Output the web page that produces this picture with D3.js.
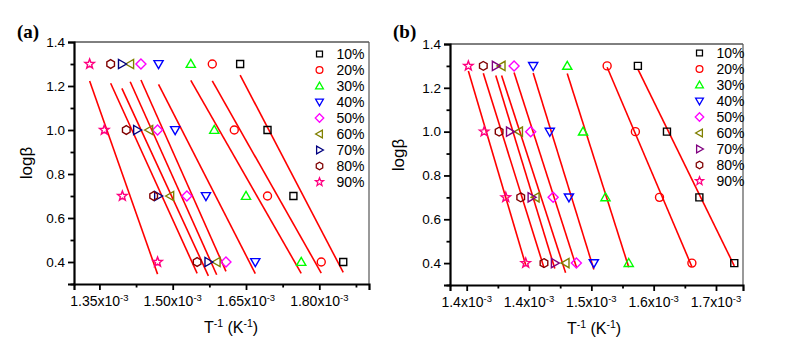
<!DOCTYPE html>
<html><head><meta charset="utf-8">
<script src="https://cdn.jsdelivr.net/npm/d3@7"></script>
<style>body{margin:0;background:#fff} svg{display:block}</style>
</head><body>
<svg id="c" width="796" height="350"></svg>
<script>
// ---------- data ----------
const seriesNames = ["10%","20%","30%","40%","50%","60%","70%","80%","90%"];
const logBeta = [1.3, 1.0, 0.7, 0.4];
// T^-1 values (x10^-3 K^-1), one per logBeta level
const a10 = [1.638, 1.694, 1.747, 1.849];
const a20 = [1.581, 1.626, 1.694, 1.804];
const a30 = [1.537, 1.585, 1.650, 1.763];
const a40 = [1.471, 1.505, 1.568, 1.669];
const a50 = [1.435, 1.469, 1.529, 1.609];
const a60 = [1.413, 1.452, 1.495, 1.590];
const a70 = [1.396, 1.427, 1.470, 1.573];
const a80 = [1.373, 1.405, 1.461, 1.550];
const a90 = [1.330, 1.360, 1.397, 1.469];
const b10 = [1.581, 1.616, 1.655, 1.697];
const b20 = [1.544, 1.578, 1.607, 1.646];
const b30 = [1.496, 1.515, 1.542, 1.570];
const b40 = [1.455, 1.475, 1.498, 1.528];
const b50 = [1.432, 1.452, 1.479, 1.507];
const b60 = [1.417, 1.438, 1.458, 1.494];
const b70 = [1.410, 1.427, 1.453, 1.481];
const b80 = [1.395, 1.414, 1.440, 1.468];
const b90 = [1.377, 1.396, 1.422, 1.446];
const yTicksMajor = [0.4, 0.6, 0.8, 1.0, 1.2, 1.4];
const yTicksMinor = [0.3, 0.5, 0.7, 0.9, 1.1, 1.3];
const aXTicks = [1.35, 1.50, 1.65, 1.80];
const aXTickLabels = ["1.35", "1.50", "1.65", "1.80"];
const aXMinor = [1.425, 1.575, 1.725, 1.875];
const bXTicks = [1.375, 1.45, 1.525, 1.6, 1.675];
const bXTickLabels = ["1.4", "1.4", "1.5", "1.6", "1.7"];
const bXMinor = [1.4125, 1.4875, 1.5625, 1.6375];

// ---------- styling ----------
const colorsA = ["#000000","#ff0000","#00ff00","#0000ff","#ff00ff","#808000","#000080","#800000","#ff0080"];
const colorsB = ["#000000","#ff0000","#00ff00","#0000ff","#ff00ff","#808000","#800080","#800000","#ff0080"];
const shapes = ["square","circle","up","down","diamond","left","right","hexagon","star"];

function shapePath(s) {
  switch (s) {
    case "square": return "M-3.5,-3.5h7v7h-7z";
    case "circle": return "M4,0A4,4 0 1 1 -4,0A4,4 0 1 1 4,0z";
    case "up": return "M0,-4.6L4.6,3.4L-4.6,3.4z";
    case "down": return "M0,4.6L4.6,-3.4L-4.6,-3.4z";
    case "left": return "M-4.6,0L3.4,-4.6L3.4,4.6z";
    case "right": return "M4.6,0L-3.4,-4.6L-3.4,4.6z";
    case "diamond": return "M0,-5L5,0L0,5L-5,0z";
    case "hexagon": {
      const p = d3.range(6).map(k => { const a = (-90 + 60 * k) * Math.PI / 180; return [4.4 * Math.cos(a), 4.4 * Math.sin(a)]; });
      return "M" + p.map(q => q.join(",")).join("L") + "z";
    }
    case "star": {
      const p = d3.range(10).map(k => { const a = (-90 + 36 * k) * Math.PI / 180; const r = k % 2 ? 2.1 : 5; return [r * Math.cos(a), r * Math.sin(a)]; });
      return "M" + p.map(q => q.join(",")).join("L") + "z";
    }
  }
}

const svg = d3.select("#c");
const FONT = "Liberation Sans, Arial, sans-serif";

function panel(cfg) {
  const x = d3.scaleLinear().domain(cfg.xDomain).range([cfg.left, cfg.right]);
  const y = d3.scaleLinear().domain([0.3, 1.4]).range([cfg.bottom, cfg.top]);
  const g = svg.append("g");

  // frame: top and right thin
  g.append("line").attr("x1", cfg.left).attr("x2", cfg.right).attr("y1", cfg.top).attr("y2", cfg.top)
    .attr("stroke", "#000").attr("stroke-width", 1);
  g.append("line").attr("x1", cfg.right).attr("x2", cfg.right).attr("y1", cfg.top).attr("y2", cfg.bottom)
    .attr("stroke", "#555").attr("stroke-width", 1.2);

  // fit lines
  cfg.series.forEach((xs, i) => {
    const mx = d3.mean(xs), my = d3.mean(logBeta);
    const sxy = d3.sum(xs, (v, k) => (v - mx) * (logBeta[k] - my));
    const sxx = d3.sum(xs, v => (v - mx) * (v - mx));
    const b = sxy / sxx, a = my - b * mx;
    const x0 = d3.min(xs), x1 = d3.max(xs);
    g.append("line")
      .attr("x1", x(x0)).attr("y1", y(a + b * x0))
      .attr("x2", x(x1)).attr("y2", y(a + b * x1))
      .attr("stroke", "#ff0000").attr("stroke-width", 1.6);
  });

  // points
  cfg.series.forEach((xs, i) => {
    g.selectAll(null).data(xs.map((v, k) => [v, logBeta[k]])).enter()
      .append("path")
      .attr("d", shapePath(shapes[i]))
      .attr("transform", d => `translate(${x(d[0])},${y(d[1])})`)
      .attr("fill", "none").attr("stroke", cfg.colors[i]).attr("stroke-width", 1.4);
  });

  // y axis
  const yAxis = g.append("g").attr("transform", `translate(${cfg.left},0)`)
    .call(d3.axisLeft(y).tickValues(yTicksMajor).tickSize(6).tickPadding(3).tickFormat(d3.format(".1f")));
  yAxis.select(".domain").attr("stroke-width", 2.2);
  yAxis.selectAll(".tick line").attr("stroke-width", 1.8);
  yAxis.selectAll("text").attr("font-family", FONT).attr("font-size", 13.5).attr("fill", "#000");
  g.append("g").attr("transform", `translate(${cfg.left},0)`)
    .call(d3.axisLeft(y).tickValues(yTicksMinor).tickSize(3.5).tickFormat(""))
    .call(s => s.select(".domain").remove())
    .selectAll(".tick line").attr("stroke-width", 1.8);

  // x axis
  const xAxis = g.append("g").attr("transform", `translate(0,${cfg.bottom})`)
    .call(d3.axisBottom(x).tickValues(cfg.xTicks).tickSize(6).tickFormat(""));
  xAxis.select(".domain").attr("stroke-width", 2.2);
  xAxis.selectAll(".tick line").attr("stroke-width", 1.8);
  g.append("g").attr("transform", `translate(0,${cfg.bottom})`)
    .call(d3.axisBottom(x).tickValues(cfg.xMinor).tickSize(3.5).tickFormat(""))
    .call(s => s.select(".domain").remove())
    .selectAll(".tick line").attr("stroke-width", 1.8);

  cfg.xTicks.forEach((v, k) => {
    const t = g.append("text").attr("x", x(v)).attr("y", cfg.bottom + 22)
      .attr("text-anchor", "middle").attr("font-family", FONT).attr("font-size", 14).attr("fill", "#000");
    t.append("tspan").text(cfg.xTickLabels[k] + "x10");
    t.append("tspan").attr("dy", -5).attr("font-size", 9.5).text("-3");
  });

  // x label
  const xl = g.append("text").attr("x", cfg.xLabelX).attr("y", cfg.bottom + 49)
    .attr("text-anchor", "middle").attr("font-family", FONT).attr("font-size", 16).attr("fill", "#000");
  xl.append("tspan").text("T");
  xl.append("tspan").attr("dy", -6).attr("font-size", 10.5).text("-1");
  xl.append("tspan").attr("dy", 6).text(" (K");
  xl.append("tspan").attr("dy", -6).attr("font-size", 10.5).text("-1");
  xl.append("tspan").attr("dy", 6).text(")");

  // y label
  g.append("text").attr("transform", `translate(${cfg.yLabelX},${cfg.yLabelY}) rotate(-90)`)
    .attr("text-anchor", "middle").attr("font-family", FONT).attr("font-size", 17).attr("fill", "#000")
    .text("logβ");

  // panel tag
  g.append("text").attr("x", cfg.tagX).attr("y", 38)
    .attr("font-family", "Liberation Serif, Times New Roman, serif").attr("font-weight", "bold")
    .attr("font-size", 19).attr("fill", "#000").text(cfg.tag);

  // legend
  seriesNames.forEach((n, i) => {
    const cy = cfg.legY + i * 16;
    g.append("path").attr("d", shapePath(shapes[i]))
      .attr("transform", `translate(${cfg.legSymX},${cy}) scale(0.85)`)
      .attr("fill", "none").attr("stroke", cfg.colors[i]).attr("stroke-width", 1.5);
    g.append("text").attr("x", cfg.legTextX).attr("y", cy + 5)
      .attr("font-family", FONT).attr("font-size", 14).attr("fill", "#000").text(n);
  });
}

panel({
  left: 74, right: 369, top: 42, bottom: 284,
  xDomain: [1.298, 1.9017],
  xTicks: aXTicks, xTickLabels: aXTickLabels, xMinor: aXMinor,
  series: [a10, a20, a30, a40, a50, a60, a70, a80, a90],
  colors: colorsA,
  xLabelX: 231, yLabelX: 32, yLabelY: 163,
  tag: "(a)", tagX: 17,
  legSymX: 319.5, legTextX: 336.5, legY: 54
});
panel({
  left: 450, right: 743, top: 44, bottom: 285,
  xDomain: [1.3549, 1.7075],
  xTicks: bXTicks, xTickLabels: bXTickLabels, xMinor: bXMinor,
  series: [b10, b20, b30, b40, b50, b60, b70, b80, b90],
  colors: colorsB,
  xLabelX: 594, yLabelX: 404, yLabelY: 155,
  tag: "(b)", tagX: 393,
  legSymX: 699.5, legTextX: 716.5, legY: 53
});
</script>
</body></html>
